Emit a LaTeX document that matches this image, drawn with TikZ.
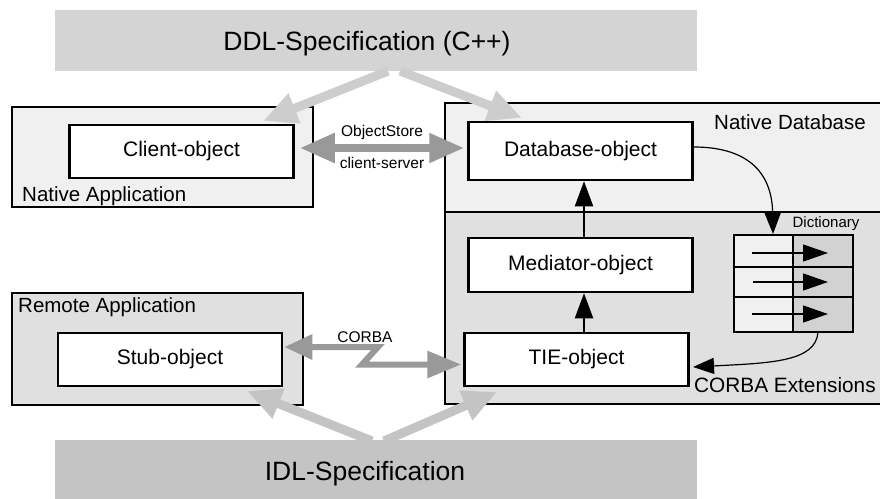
\documentclass[tikz,border=0pt]{standalone}
\usepackage{fontspec}
\setmainfont{Liberation Sans}
\usetikzlibrary{arrows.meta,calc}
\definecolor{ddlgray}{HTML}{D4D4D4}
\definecolor{idlgray}{HTML}{C4C4C4}
\definecolor{arrowlight}{HTML}{CDCDCD}
\definecolor{arrowdark}{HTML}{999999}
\definecolor{paneA}{HTML}{F0F0F0}
\definecolor{paneB}{HTML}{E0E0E0}
\definecolor{dictdark}{HTML}{D2D2D2}
\begin{document}
\begin{tikzpicture}[x=1pt,y=-1pt,
  objbox/.style={draw, line width=2.5pt, fill=white, minimum width=224pt, minimum height=53pt, inner sep=0pt, font=\fontsize{21}{24}\selectfont},
  pane/.style={draw, line width=2.2pt, inner sep=0pt},
  specbox/.style={inner sep=0pt},
  lbl/.style={font=\fontsize{20.5}{24}\selectfont, inner sep=0pt},
  smalllbl/.style={font=\fontsize{15.5}{18}\selectfont, inner sep=0pt},
  tinylbl/.style={font=\fontsize{15}{18}\selectfont, inner sep=0pt},
  biglbl/.style={font=\fontsize{26.5}{30}\selectfont, inner sep=0pt},
  lightarrow/.style={line width=9pt, draw=arrowlight, -{Triangle[length=34pt,width=30pt]}},
  darkarrow/.style={line width=8pt, draw=arrowdark, line join=miter, {Triangle[length=35pt,width=28pt]}-{Triangle[length=35pt,width=28pt]}},
  corbaarrow/.style={line width=6pt, draw=arrowdark, line join=miter, {Triangle[length=28pt,width=24pt]}-{Triangle[length=34pt,width=26pt]}},
  blackarrow/.style={line width=2pt, -{Triangle[length=25pt,width=18pt]}},
  curvearrow/.style={line width=1.2pt, -{Triangle[length=21pt,width=16pt]}},
  rowarrow/.style={line width=1.2pt, -{Triangle[length=25pt,width=17pt]}}
]
\useasboundingbox (0,0) rectangle (880,498);
\clip (0,0) rectangle (880,498);
\fill[white] (0,0) rectangle (880,498);

% specification bars
\node[specbox, fill=ddlgray, minimum width=642pt, minimum height=61pt] (ddl) at (376,40.5) {};
\node[biglbl] (ddltext) at (367,44) {DDL-Specification (C++)};
\node[specbox, fill=idlgray, minimum width=642pt, minimum height=70pt] (idl) at (376,475) {};
\node[biglbl] (idltext) at (365,474) {IDL-Specification};

% panes
\node[pane, fill=paneA, minimum width=301pt, minimum height=100pt] (natapp) at (162.5,157) {};
\node[lbl, anchor=west] (natapplbl) at (22,196) {Native Application};
\node[pane, fill=paneB, minimum width=291pt, minimum height=112pt] (remapp) at (157.5,349) {};
\node[lbl, anchor=west] (remapplbl) at (18,307) {Remote Application};

\fill[paneA] (445,103) rectangle (900,212);
\fill[paneB] (445,212) rectangle (900,404);
\draw[line width=2.5pt] (900,103) -- (445,103) -- (445,404) -- (900,404);
\draw[line width=2.5pt] (445,212) -- (900,212);
\coordinate (natdb) at (445,103);
\node[lbl] (natdblbl) at (790,122) {Native Database};
\node[lbl, anchor=west, font=\fontsize{20.8}{24}\selectfont] (extlbl) at (694,385) {CORBA Extensions};

% objects
\node[objbox] (client) at (181.5,151.5) {Client-object};
\node[objbox, minimum height=58pt] (dbobj) at (580.5,151) {Database-object};
\node[objbox, minimum height=54pt] (med) at (580.5,265) {Mediator-object};
\node[objbox, minimum width=224pt] (tie) at (576.5,359.5) {TIE-object};
\node[objbox] (stub) at (170,359.5) {Stub-object};

% dictionary
\node[inner sep=0pt, minimum width=119pt, minimum height=97pt] (dict) at (793.5,283.5) {};
\fill[paneA] (dict.north west) rectangle (dict.south -| 793,0);
\fill[dictdark] (dict.north -| 793,0) rectangle (dict.south east);
\draw[line width=2.5pt] (dict.north west) rectangle (dict.south east);
\draw[line width=2.5pt] (dict.north -| 793,0) -- (dict.south -| 793,0);
\draw[line width=2.5pt] (dict.west |- 0,267) -- (dict.east |- 0,267);
\draw[line width=2.5pt] (dict.west |- 0,297) -- (dict.east |- 0,297);
\node[tinylbl] (dictlbl) at (826,224) {Dictionary};
\foreach \yy/\xs in {253/752,282/753,314/752}{
  \draw[rowarrow] (\xs,\yy) -- (828,\yy);
}

% black arrows
\coordinate (ax) at (584,0);
\draw[blackarrow] (med.north -| ax) -- (dbobj.south -| ax);
\draw[blackarrow] (tie.north -| ax) -- (med.south -| ax);
\coordinate (dictin) at (773,234);
\draw[curvearrow] (dbobj.east |- 0,147) .. controls (745,147) and (772,170) .. (dictin);
\coordinate (dictout) at (818,332);
\coordinate (tiein) at (693,367);
\draw[curvearrow] (dictout) .. controls (816,362) and (770,363) .. (tiein);

% ObjectStore
\coordinate (osy) at (0,148);
\draw[darkarrow] ($(client.east |- osy)+(5,0)$) -- ($(dbobj.west |- osy)+(-3,0)$);
\node[smalllbl] (oslbl) at (382,132) {ObjectStore};
\node[smalllbl] (cslbl) at (382,163) {client-server};

% CORBA
\coordinate (cb1) at (378,347);
\coordinate (cb2) at (362,364.5);
\draw[corbaarrow] ($(stub.east |- cb1)+(1,0)$) -- (cb1) -- (cb2) -- ($(tie.west |- cb2)+(-2,0)$);
\node[smalllbl] (corbalbl) at (365,337) {CORBA};

% specification arrows
\coordinate (ddlL) at (388,71);
\coordinate (ddlR) at (400,71);
\coordinate (natapptip) at (263,121);
\coordinate (natdbtip) at (522,118);
\draw[lightarrow] (ddlL) -- (natapptip);
\draw[lightarrow] (ddlR) -- (natdbtip);
\coordinate (idlL) at (372,441);
\coordinate (idlR) at (384,441);
\coordinate (remtip) at (247,391);
\coordinate (tietip) at (497,392);
\draw[lightarrow, draw=idlgray] (idlL) -- (remtip);
\draw[lightarrow, draw=idlgray] (idlR) -- (tietip);
\end{tikzpicture}
\end{document}
